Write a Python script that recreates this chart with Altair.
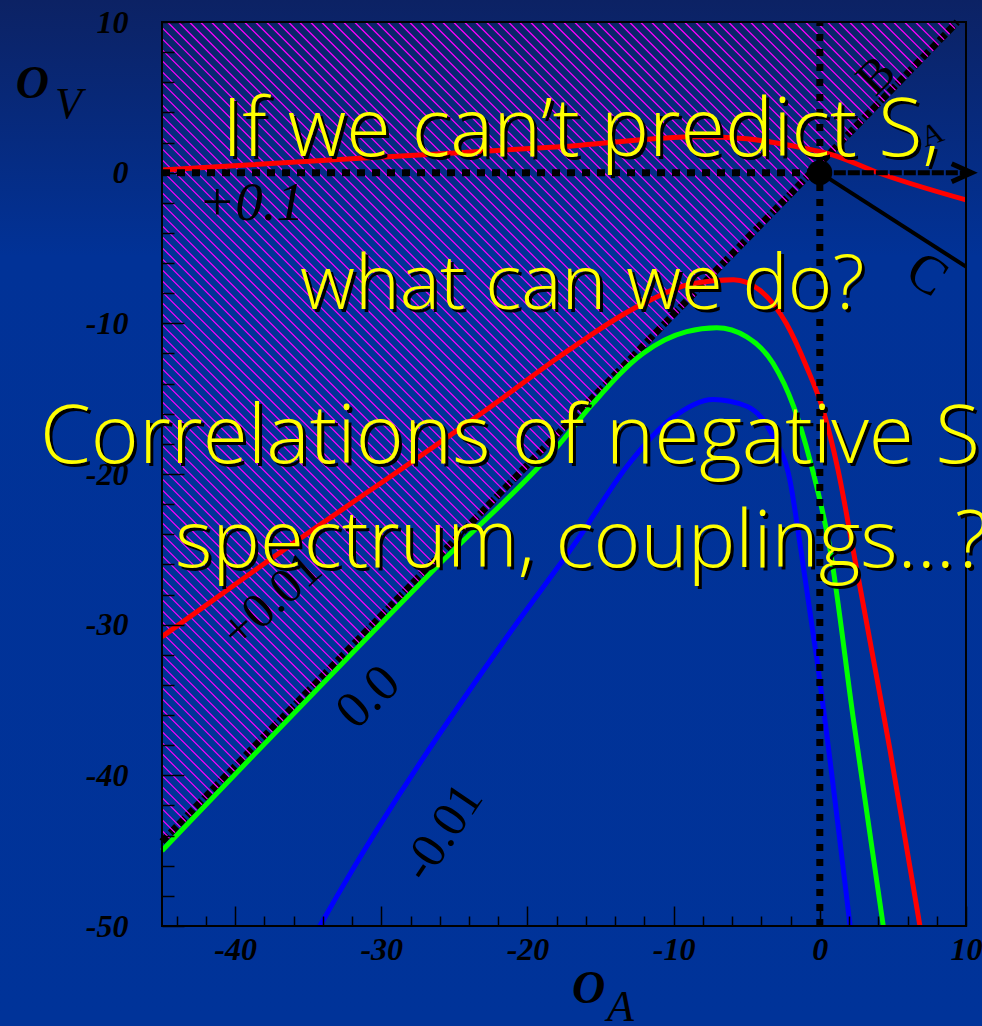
import numpy as np
import pandas as pd
import altair as alt

# ---------------------------------------------------------------- layout
W, H = 804, 904
PAD = {"left": 162, "top": 22, "right": 16, "bottom": 100}
X_DOMAIN = [-45, 10]
Y_DOMAIN = [-50, 10]

# ---------------------------------------------------------------- contours
# contour +0.1
c_p1_x = [-45.0, -31.45, -17.8, -8.2, -5.0, -2.0, 0.92, 4.1, 10.0]
c_p1_y = [0.18, 0.95, 1.72, 2.39, 2.25, 1.8, 1.17, -0.04, -1.81]
# contour +0.01
c_p01_x = [-45.0, -38.3, -21.9, -17.8, -12.1, -8.65, -5.9, -4.1, -2.3, -0.9, 0.22, 1.24, 2.27, 3.55, 4.8, 6.85]
c_p01_y = [-30.8, -26.15, -15.1, -12.2, -8.7, -7.35, -7.1, -7.8, -10.0, -12.9, -15.75, -19.7, -25.0, -31.7, -38.3, -50.0]
# contour 0.0
c_0_x = [-45.0, -26.2, -17.8, -15.5, -12.1, -9.1, -7.05, -5.0, -3.2, -1.8, -0.67, 0.7, 2.27, 4.34]
c_0_y = [-45.0, -26.15, -18.0, -15.3, -12.0, -10.55, -10.3, -10.9, -12.65, -15.5, -19.1, -25.0, -36.1, -50.0]
# contour -0.01
c_m01_x = [-34.2, -33.05, -21.4, -16.6, -13.2, -10.25, -7.3, -5.0, -3.2, -2.05, -1.3, -0.2, 2.07]
c_m01_y = [-50.0, -48.05, -30.8, -24.4, -19.5, -16.4, -15.05, -15.5, -17.5, -20.4, -25.0, -32.3, -50.0]

curve_names = ["+0.1", "+0.01", "0.0", "-0.01"]
curve_colors = ["#ff0000", "#ff0000", "#00ff00", "#0000ff"]

# boundary of the excluded (hatched) region
diag_x = [-45.0, 9.4]
diag_y = [-44.4, 10.0]
DIAG_OFFSET = 0.6

# directions from the origin
arrow_a_end = [10.3, 0.0]
line_c_end = [10.0, -6.24]
arrow_tip = [10.39, 0.0]

# contour labels
lab_text = ["+0.01", "0.0", "-0.01"]
lab_x = [-37.5, -30.9, -25.8]
lab_y = [-28.4, -34.8, -43.8]
lab_angle = [318, 316, 304]
lab_size = [50, 52, 50]
lab01_text, lab01_x, lab01_y = "+0.1", -38.9, -2.0

dir_text = ["A", "B", "C"]
dir_x = [7.7, 3.9, 7.3]
dir_y = [2.5, 6.4, -6.8]
dir_angle = [340, 315, 33]
dir_size = [30, 48, 54]

# slide text
msg_text = ["If we can\u2019t predict S,", "what can we do?",
            "Correlations of negative S", "spectrum, couplings...?"]
msg_x = [-40.9, -35.56, -53.35, -44.11]
msg_y = [1.11, -9.05, -19.27, -26.17]
msg_size = [81, 76, 82, 80]

# axis titles (main letter + subscript)
ttl_text = ["O", "V", "O", "A"]
ttl_x = [-55.0, -52.32, -16.95, -14.56]
ttl_y = [4.96, 3.63, -55.11, -56.3]
ttl_weight = ["bold", "normal", "bold", "normal"]

x_major = [-40, -30, -20, -10, 0, 10]
x_minor = [v for v in range(-44, 10, 2) if v % 10 != 0]
y_major = [-50, -40, -30, -20, -10, 0, 10]
y_minor = [v for v in range(-48, 10, 2) if v % 10 != 0]

# ---------------------------------------------------------------- scales
XS = alt.Scale(domain=X_DOMAIN, nice=False, zero=False)
YS = alt.Scale(domain=Y_DOMAIN, nice=False, zero=False)


def X(field, axis=None):
    return alt.X(f"{field}:Q", scale=XS, axis=axis)


def Y(field, axis=None):
    return alt.Y(f"{field}:Q", scale=YS, axis=axis)


# ---------------------------------------------------------------- background
bg = alt.Chart(pd.DataFrame({"k": [0]})).mark_rect(
    color=alt.LinearGradient(
        gradient="linear",
        stops=[alt.GradientStop(offset=0, color="#0c2264"),
               alt.GradientStop(offset=0.25, color="#013297"),
               alt.GradientStop(offset=1, color="#003399")],
        x1=0, x2=0, y1=0, y2=1),
).encode(x=alt.value(-PAD["left"]), x2=alt.value(W + PAD["right"]),
         y=alt.value(-PAD["top"]), y2=alt.value(H + PAD["bottom"]))

# ---------------------------------------------------------------- hatching texture
px_x = W / (X_DOMAIN[1] - X_DOMAIN[0])
px_y = H / (Y_DOMAIN[1] - Y_DOMAIN[0])
k = px_x / px_y                     # 45 degree line in screen space
gap = 11 / px_x * k
c_first = diag_y[0] + k * X_DOMAIN[0]
c_last = Y_DOMAIN[1] + k * diag_x[1]
rows = []
for c in np.arange(c_first + gap, c_last, gap):
    xs, ys = X_DOMAIN[0], c - k * X_DOMAIN[0]
    if ys > Y_DOMAIN[1]:
        ys = Y_DOMAIN[1]
        xs = (c - Y_DOMAIN[1]) / k
    xe = (c - DIAG_OFFSET) / (1 + k) + 0.15
    ye = c - k * xe
    if xe > xs:
        rows.append({"hx": xs, "hy": ys, "hx2": xe, "hy2": ye})
hatch_df = pd.DataFrame(rows)
hatch = alt.Chart(hatch_df).mark_rule(color="#ff00ff", strokeWidth=1.2).encode(
    x=X("hx"), y=Y("hy"), x2="hx2:Q", y2="hy2:Q")

diag = alt.Chart(pd.DataFrame({"dx": [diag_x[0]], "dy": [diag_y[0]],
                               "dx2": [diag_x[1]], "dy2": [diag_y[1]]})).mark_rule(
    color="black", strokeWidth=7, strokeDash=[9, 3]).encode(
    x=X("dx"), y=Y("dy"), x2="dx2:Q", y2="dy2:Q")

# ---------------------------------------------------------------- curves
curve_rows = []
for name, xs_, ys_ in zip(curve_names, [c_p1_x, c_p01_x, c_0_x, c_m01_x],
                          [c_p1_y, c_p01_y, c_0_y, c_m01_y]):
    for i, (a, b) in enumerate(zip(xs_, ys_)):
        curve_rows.append({"curve": name, "cx": a, "cy": b, "i": i})
curves_df = pd.DataFrame(curve_rows)
curves = alt.Chart(curves_df).mark_line(strokeWidth=5, interpolate="monotone").encode(
    x=X("cx"), y=Y("cy"),
    color=alt.Color("curve:N", scale=alt.Scale(domain=curve_names, range=curve_colors), legend=None),
    detail="curve:N", order="i:Q")

# ---------------------------------------------------------------- guide lines through the origin
vdot = alt.Chart(pd.DataFrame({"vx": [0.0], "vy": [Y_DOMAIN[0]], "vy2": [Y_DOMAIN[1]]})).mark_rule(
    color="black", strokeWidth=7, strokeDash=[7, 8]).encode(x=X("vx"), y=Y("vy"), y2="vy2:Q")
hdot = alt.Chart(pd.DataFrame({"hx": [X_DOMAIN[0]], "hx2": [0.0], "hy": [0.0]})).mark_rule(
    color="black", strokeWidth=7, strokeDash=[8, 7]).encode(x=X("hx"), x2="hx2:Q", y=Y("hy"))

shaft_a = alt.Chart(pd.DataFrame({"ax": [0.0], "ax2": [arrow_a_end[0]], "ay": [0.0]})).mark_rule(
    color="black", strokeWidth=5, strokeDash=[12, 2]).encode(x=X("ax"), x2="ax2:Q", y=Y("ay"))
head_a = alt.Chart(pd.DataFrame({"tx": [arrow_tip[0]], "ty": [arrow_tip[1]]})).mark_point(
    shape="M-1,-0.45L0,0L-1,0.45", filled=False, stroke="black", strokeWidth=5,
    size=1600, opacity=1).encode(x=X("tx"), y=Y("ty"))
line_c = alt.Chart(pd.DataFrame({"lx": [0.0], "ly": [0.0], "lx2": [line_c_end[0]],
                                 "ly2": [line_c_end[1]]})).mark_rule(
    color="black", strokeWidth=4).encode(x=X("lx"), y=Y("ly"), x2="lx2:Q", y2="ly2:Q")
origin = alt.Chart(pd.DataFrame({"ox": [0.0], "oy": [0.0]})).mark_point(
    shape="circle", filled=True, color="black", size=620, opacity=1).encode(x=X("ox"), y=Y("oy"))

# ---------------------------------------------------------------- labels
lab_df = pd.DataFrame({"t": lab_text, "lx": lab_x, "ly": lab_y, "a": lab_angle, "s": lab_size})
labels = alt.Chart(lab_df).mark_text(font="Liberation Serif", color="black",
                                     align="center", baseline="middle").encode(
    x=X("lx"), y=Y("ly"), text="t:N", angle=alt.Angle("a:Q", scale=None),
    size=alt.Size("s:Q", scale=None, legend=None))
label01 = alt.Chart(pd.DataFrame({"t": [lab01_text], "lx": [lab01_x], "ly": [lab01_y]})).mark_text(
    font="Liberation Serif", fontStyle="italic", fontSize=55, color="black",
    align="center", baseline="middle").encode(x=X("lx"), y=Y("ly"), text="t:N")

dir_df = pd.DataFrame({"t": dir_text, "lx": dir_x, "ly": dir_y, "a": dir_angle, "s": dir_size})
dirs = alt.Chart(dir_df).mark_text(font="Liberation Serif", color="black",
                                   align="center", baseline="middle").encode(
    x=X("lx"), y=Y("ly"), text="t:N", angle=alt.Angle("a:Q", scale=None),
    size=alt.Size("s:Q", scale=None, legend=None))

ttl_df = pd.DataFrame({"t": ttl_text, "tx": ttl_x, "ty": ttl_y, "w": ttl_weight})
ttl_bold = alt.Chart(ttl_df[ttl_df.w == "bold"]).mark_text(
    font="Liberation Serif", fontStyle="italic", fontWeight="bold", fontSize=46,
    color="black", align="left", baseline="alphabetic").encode(x=X("tx"), y=Y("ty"), text="t:N")
ttl_sub = alt.Chart(ttl_df[ttl_df.w == "normal"]).mark_text(
    font="Liberation Serif", fontStyle="italic", fontSize=44,
    color="black", align="left", baseline="alphabetic").encode(x=X("tx"), y=Y("ty"), text="t:N")

# ---------------------------------------------------------------- axes (ticks drawn inward)
tick_kw = dict(domain=False, grid=False, tickColor="black", tickWidth=1.5, title=None, zindex=2)
lab_kw = dict(labelFont="Liberation Serif", labelFontSize=32, labelFontStyle="italic",
              labelFontWeight="bold", labelColor="black", labelExpr="'' + datum.value",
              labelOverlap=False, labelFlush=False, **tick_kw)
axis_major = alt.Chart(pd.DataFrame({"ax": [0.0], "ay": [0.0]})).mark_point(opacity=0).encode(
    x=X("ax", alt.Axis(orient="bottom", values=x_major, offset=-20, tickSize=20,
                       labelPadding=8, **lab_kw)),
    y=Y("ay", alt.Axis(orient="left", values=y_major, offset=-22, tickSize=22,
                       labelPadding=34, **lab_kw)))
axis_minor = alt.Chart(pd.DataFrame({"bx": [0.0], "by": [0.0]})).mark_point(opacity=0).encode(
    x=X("bx", alt.Axis(orient="bottom", values=x_minor, offset=-10, tickSize=10, labels=False,
                       **tick_kw)),
    y=Y("by", alt.Axis(orient="left", values=y_minor, offset=-12, tickSize=12, labels=False,
                       **tick_kw)))

frame = alt.Chart(pd.DataFrame({"k": [0]})).mark_rect(
    fillOpacity=0, stroke="black", strokeWidth=2).encode(
    x=alt.value(0), x2=alt.value(W), y=alt.value(0), y2=alt.value(H))

# ---------------------------------------------------------------- slide text with drop shadow
msg_df = pd.DataFrame({"t": msg_text, "mx": msg_x, "my": msg_y, "s": msg_size})
msg_kw = dict(font="Open Sans", fontWeight=300, align="left", baseline="alphabetic")
msg_shadow = alt.Chart(msg_df).mark_text(color="black", dx=3, dy=3, **msg_kw).encode(
    x=X("mx"), y=Y("my"), text="t:N", size=alt.Size("s:Q", scale=None, legend=None))
msg = alt.Chart(msg_df).mark_text(color="#ffff00", **msg_kw).encode(
    x=X("mx"), y=Y("my"), text="t:N", size=alt.Size("s:Q", scale=None, legend=None))

chart = alt.layer(
    bg, diag, hatch, curves, vdot, hdot, line_c, shaft_a, head_a, origin,
    labels, label01, dirs, ttl_bold, ttl_sub, axis_minor, axis_major, frame,
    msg_shadow, msg,
).resolve_axis(x="independent", y="independent").properties(
    width=W, height=H, padding=PAD,
    autosize=alt.AutoSizeParams(type="none"),
).configure(background="#003399").configure_view(strokeWidth=0)

chart.save("out.html", embed_options={"renderer": "svg", "actions": False})
